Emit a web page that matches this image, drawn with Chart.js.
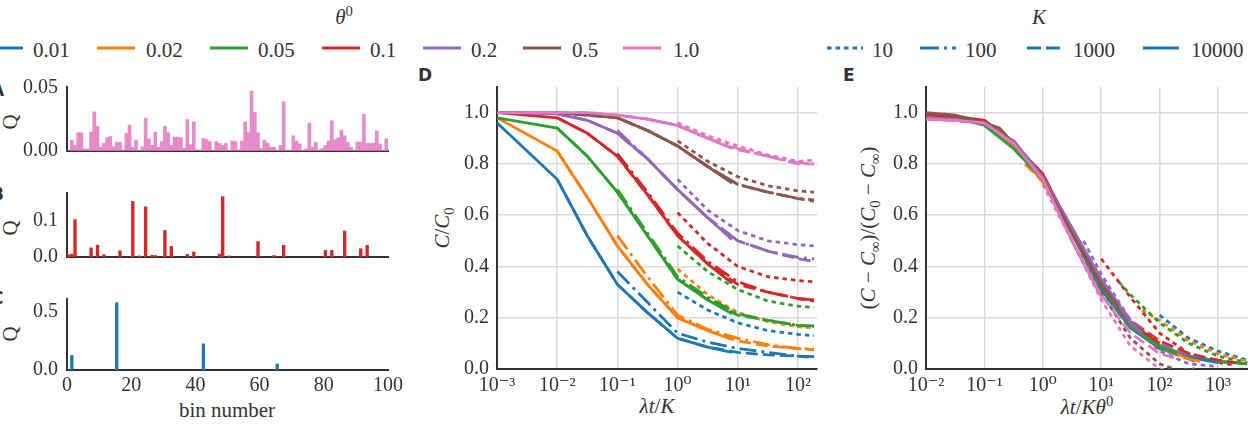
<!DOCTYPE html>
<html>
<head>
<meta charset="utf-8">
<script src="https://cdn.jsdelivr.net/npm/chart.js@4.4.0/dist/chart.umd.min.js"></script>
<style>
body { margin: 0; background: #fff; width: 1248px; height: 430px; overflow: hidden; position: relative; font-family: "Liberation Serif", "DejaVu Serif", "Times New Roman", serif; color: #333; }
canvas { position: absolute; }
.t { position: absolute; font-size: 21px; line-height: 1; white-space: nowrap; }
.c { transform: translate(-50%, -50%); }
.l { transform: translate(0, -50%); }
.r { transform: translate(-50%, -50%) rotate(-90deg); }
.p { position: absolute; font-family: "DejaVu Sans", sans-serif; font-weight: bold; font-size: 17px; }
sub, sup { font-size: 70%; line-height: 0; }
</style>
</head>
<body>
<svg id="leg" width="1248" height="70" style="position:absolute;left:0;top:0"></svg>

<div class="t c" style="left:344px;top:17px"><i>θ</i><sup>0</sup></div>
<div class="t c" style="left:1039px;top:17px"><i>K</i></div>

<div class="p" style="left:-9px;top:80px">A</div>
<div class="p" style="left:-9px;top:184px">B</div>
<div class="p" style="left:-9px;top:288px">C</div>
<div class="p" style="left:418px;top:65px">D</div>
<div class="p" style="left:843px;top:65px">E</div>

<div class="t r" style="left:10px;top:122px">Q</div>
<div class="t r" style="left:10px;top:228px">Q</div>
<div class="t r" style="left:10px;top:334px">Q</div>
<div class="t c" style="left:227px;top:410px">bin number</div>
<div class="t r" style="left:442px;top:228px"><i>C</i>/<i>C</i><sub>0</sub></div>
<div class="t c" style="left:657px;top:406px"><i>λt</i>/<i>K</i></div>
<div class="t r" style="left:868px;top:228px">(<i>C</i> − <i>C</i><sub>∞</sub>)/(<i>C</i><sub>0</sub> − <i>C</i><sub>∞</sub>)</div>
<div class="t c" style="left:1087px;top:407px"><i>λt</i>/<i>Kθ</i><sup>0</sup></div>

<script>
// legend / tick labels
const thetaLabels = ['0.01', '0.02', '0.05', '0.1', '0.2', '0.5', '1.0'];
const kLabels = ['10', '100', '1000', '10000'];
const binTicks = [0, 20, 40, 60, 80, 100];
const ratioTicks = [0, 0.2, 0.4, 0.6, 0.8, 1.0];
const dTicks = [0.001, 0.01, 0.1, 1, 10, 100];
const dTickLabels = ['10⁻³', '10⁻²', '10⁻¹', '10⁰', '10¹', '10²'];
const eTicks = [0.01, 0.1, 1, 10, 100, 1000];
const eTickLabels = ['10⁻²', '10⁻¹', '10⁰', '10¹', '10²', '10³'];

// panel A: theta0 = 1.0, all 100 bins
const qA = [0, 0.0085, 0.0044, 0.0145, 0.0145, 0.0015, 0.0015, 0.015, 0.031, 0.0195,
  0.003, 0.006, 0.0105, 0.0115, 0.0035, 0.007, 0.007, 0.001, 0.014, 0.0205,
  0.003, 0.0085, 0.0005, 0.0035, 0.026, 0.0095, 0.0045, 0.015, 0.003, 0.0075,
  0.0195, 0.0145, 0.0045, 0.011, 0.011, 0.0105, 0.002, 0.025, 0.005, 0.023,
  0, 0.001, 0.010, 0.009, 0.0075, 0.0003, 0.0075, 0.006, 0.0045, 0.006,
  0.0005, 0.008, 0.0075, 0.001, 0.008, 0.023, 0.0145, 0.0475, 0.0305, 0.0145,
  0.002, 0.0087, 0.0063, 0.003, 0.003, 0.0007, 0.0044, 0.039, 0.0007, 0.0007,
  0.012, 0.0078, 0.0056, 0.0007, 0.0015, 0.022, 0.003, 0.0068, 0.0007, 0.002,
  0.0044, 0.008, 0.024, 0.009, 0.0104, 0.0165, 0.012, 0.0068, 0.003, 0.0007,
  0.0073, 0.0068, 0.029, 0.006, 0.006, 0.0063, 0.0158, 0.0056, 0.0007, 0.0097];
// panel B: theta0 = 0.1
const binsB = [0, 1, 2, 7, 9, 11, 16, 20, 22, 24, 26, 27, 30, 32, 37, 39, 47, 48, 50, 59, 64, 67, 80, 82, 86, 91, 93];
const qB = [0.006, 0.008, 0.102, 0.025, 0.032, 0.006, 0.017, 0.152, 0.003, 0.137, 0.005, 0.004, 0.0725, 0.029,
  0.007, 0.014, 0.008, 0.165, 0.003, 0.042, 0.004, 0.032, 0.018, 0.018, 0.071, 0.0225, 0.032];
// panel C: theta0 = 0.01
const binsC = [1, 15, 42, 65];
const qC = [0.124, 0.578, 0.225, 0.052];

// panel D: C/C0 vs lambda t / K, rows = theta0 0.01 .. 1.0
const dX10000 = [0.001, 0.01, 0.0316, 0.1, 0.316, 1, 3.16, 8];
const dY10000 = [
  [0.96, 0.74, 0.52, 0.33, 0.22, 0.12, 0.085, 0.065],
  [0.98, 0.85, 0.67, 0.48, 0.33, 0.20, 0.15, 0.115],
  [0.98, 0.94, 0.83, 0.69, 0.52, 0.35, 0.27, 0.215],
  [1.0, 0.98, 0.92, 0.83, 0.68, 0.52, 0.41, 0.335],
  [1.0, 0.995, 0.97, 0.92, 0.82, 0.70, 0.59, 0.505],
  [1.0, 1.0, 0.99, 0.98, 0.93, 0.87, 0.79, 0.725],
  [1.0, 1.0, 1.0, 0.99, 0.975, 0.95, 0.90, 0.86]];
const dX1000 = [0.01, 0.0316, 0.1, 0.316, 1, 3.16, 10, 31.6, 100, 185];
const dY1000 = [
  [0.74, 0.52, 0.33, 0.22, 0.12, 0.085, 0.065, 0.055, 0.05, 0.045],
  [0.85, 0.67, 0.48, 0.33, 0.20, 0.15, 0.11, 0.09, 0.08, 0.075],
  [0.94, 0.83, 0.69, 0.52, 0.35, 0.27, 0.21, 0.19, 0.17, 0.165],
  [0.98, 0.92, 0.83, 0.68, 0.52, 0.41, 0.33, 0.30, 0.275, 0.265],
  [0.995, 0.97, 0.92, 0.82, 0.70, 0.59, 0.50, 0.46, 0.43, 0.42],
  [1.0, 0.99, 0.98, 0.93, 0.87, 0.79, 0.72, 0.69, 0.665, 0.655],
  [1.0, 1.0, 0.99, 0.975, 0.95, 0.90, 0.855, 0.83, 0.80, 0.80]];
const dX100 = [0.1, 0.316, 1, 3.16, 10, 31.6, 100, 185];
const dY100 = [
  [0.38, 0.26, 0.14, 0.105, 0.08, 0.065, 0.05, 0.048],
  [0.52, 0.36, 0.21, 0.155, 0.12, 0.095, 0.08, 0.078],
  [0.70, 0.53, 0.36, 0.28, 0.215, 0.19, 0.17, 0.168],
  [0.84, 0.69, 0.53, 0.42, 0.34, 0.30, 0.275, 0.27],
  [0.93, 0.82, 0.70, 0.59, 0.50, 0.46, 0.435, 0.43],
  [0.98, 0.93, 0.87, 0.79, 0.72, 0.69, 0.665, 0.66],
  [0.99, 0.975, 0.95, 0.90, 0.86, 0.83, 0.805, 0.80]];
const dX10 = [1, 3.16, 10, 31.6, 100, 185];
const dY10 = [
  [0.30, 0.23, 0.18, 0.15, 0.135, 0.13],
  [0.39, 0.29, 0.22, 0.185, 0.165, 0.16],
  [0.48, 0.38, 0.31, 0.265, 0.245, 0.24],
  [0.61, 0.49, 0.40, 0.36, 0.345, 0.34],
  [0.74, 0.62, 0.54, 0.50, 0.485, 0.48],
  [0.89, 0.81, 0.75, 0.715, 0.695, 0.69],
  [0.96, 0.91, 0.87, 0.835, 0.81, 0.815]];

// panel E: rescaled curves vs lambda t / K theta0
const eX10000 = [
  [0.1, 0.316, 1, 3.16, 10, 31.6, 100, 316, 1000],
  [0.05, 0.1, 0.316, 1, 3.16, 10, 31.6, 100, 316, 500],
  [0.02, 0.0316, 0.1, 0.316, 1, 3.16, 10, 31.6, 100, 200],
  [0.01, 0.0316, 0.1, 0.316, 1, 3.16, 10, 31.6, 100],
  [0.005, 0.01, 0.0316, 0.1, 0.316, 1, 3.16, 10, 31.6, 50],
  [0.002, 0.01, 0.0316, 0.1, 0.18, 0.316, 1, 3.16, 10, 20],
  [0.001, 0.01, 0.0316, 0.1, 0.316, 1, 3.16, 10]];
const eY10000 = [
  [0.95, 0.87, 0.74, 0.53, 0.31, 0.16, 0.08, 0.045, 0.025],
  [0.98, 0.955, 0.87, 0.73, 0.53, 0.33, 0.17, 0.085, 0.04, 0.03],
  [0.985, 0.98, 0.95, 0.86, 0.74, 0.53, 0.32, 0.17, 0.085, 0.06],
  [0.99, 0.985, 0.97, 0.88, 0.76, 0.54, 0.33, 0.18, 0.1],
  [0.98, 0.98, 0.975, 0.955, 0.89, 0.75, 0.55, 0.35, 0.18, 0.14],
  [1.0, 1.0, 0.99, 0.96, 0.94, 0.88, 0.74, 0.53, 0.33, 0.24],
  [0.98, 0.975, 0.97, 0.96, 0.88, 0.74, 0.50, 0.28]];
const eX1000 = [
  [1, 3.16, 10, 31.6, 100, 316, 1000, 3162],
  [0.5, 1, 3.16, 10, 31.6, 100, 316, 1000, 3162],
  [0.2, 0.316, 1, 3.16, 10, 31.6, 100, 316, 1000, 3162],
  [0.1, 0.316, 1, 3.16, 10, 31.6, 100, 316, 1000, 2000],
  [0.05, 0.1, 0.316, 1, 3.16, 10, 31.6, 100, 316, 1000],
  [0.02, 0.1, 0.316, 1, 3.16, 10, 31.6, 100, 400],
  [0.01, 0.1, 0.316, 1, 3.16, 10, 31.6, 100, 200]];
const eY1000 = [
  [0.74, 0.53, 0.32, 0.17, 0.09, 0.05, 0.03, 0.02],
  [0.8, 0.73, 0.53, 0.33, 0.17, 0.09, 0.05, 0.03, 0.02],
  [0.9, 0.86, 0.74, 0.53, 0.33, 0.18, 0.09, 0.05, 0.03, 0.02],
  [0.97, 0.88, 0.76, 0.54, 0.34, 0.19, 0.11, 0.06, 0.035, 0.025],
  [0.975, 0.955, 0.89, 0.75, 0.55, 0.35, 0.19, 0.1, 0.05, 0.025],
  [0.995, 0.96, 0.88, 0.74, 0.53, 0.33, 0.17, 0.08, 0.03],
  [0.975, 0.96, 0.88, 0.74, 0.50, 0.29, 0.14, 0.06, 0.04]];
const eX10 = [
  [100, 316, 1000, 3162],
  [50, 100, 316, 1000, 3162],
  [20, 31.6, 100, 316, 1000, 3162],
  [10, 31.6, 100, 316, 1000, 2000],
  [5, 10, 31.6, 100, 316, 1000],
  [2, 3.16, 10, 31.6, 100, 200, 400],
  [1, 3.16, 10, 31.6, 100, 200]];
const eY10 = [
  [0.21, 0.12, 0.07, 0.035],
  [0.23, 0.19, 0.11, 0.06, 0.03],
  [0.34, 0.29, 0.18, 0.1, 0.05, 0.025],
  [0.43, 0.28, 0.14, 0.06, 0.025, 0.015],
  [0.5, 0.37, 0.19, 0.07, 0.02, 0.01],
  [0.63, 0.53, 0.3, 0.12, 0.02, -0.005, 0.0],
  [0.72, 0.5, 0.27, 0.09, 0.0, -0.01]];

const palette = ['#1f77b4', '#ff7f0e', '#2ca02c', '#d62728', '#9467bd', '#8c564b', '#e377c2'];
const dashes = { '10': [4.5, 4], '100': [17, 5, 3, 5], '1000': [12, 5], '10000': [] };
const ink = '#333';
const tickFont = { family: '"Liberation Serif", "DejaVu Serif", "Times New Roman", serif', size: 20 };

// legend
const svg = document.getElementById('leg');
function legLine(x1, x2, color, dash) {
  const ln = document.createElementNS('http://www.w3.org/2000/svg', 'line');
  ln.setAttribute('x1', x1); ln.setAttribute('x2', x2);
  ln.setAttribute('y1', 48); ln.setAttribute('y2', 48);
  ln.setAttribute('stroke', color); ln.setAttribute('stroke-width', 3);
  if (dash) ln.setAttribute('stroke-dasharray', dash);
  svg.appendChild(ln);
}
function legText(x, txt) {
  const d = document.createElement('div');
  d.className = 't l';
  d.style.left = x + 'px'; d.style.top = '50px';
  d.textContent = txt;
  document.body.appendChild(d);
}
const thetaLeg = [[-15, 33], [97, 146], [210, 258], [322, 370], [423, 471], [523, 572], [623, 673]];
thetaLabels.forEach((lab, i) => {
  legLine(thetaLeg[i][0], thetaLeg[i][0] + 38, palette[i], null);
  legText(thetaLeg[i][1], lab);
});
const kLeg = [[827, 872, '4.5 4'], [920, 965, '19 5 3 5'], [1027, 1073, '14 5'], [1143, 1191, null]];
kLabels.forEach((lab, i) => {
  legLine(kLeg[i][0], kLeg[i][0] + 36, palette[0], kLeg[i][2]);
  legText(kLeg[i][1], lab);
});

function mk(left, top, w, h) {
  const c = document.createElement('canvas');
  c.width = w; c.height = h;
  c.style.left = left + 'px'; c.style.top = top + 'px';
  document.body.appendChild(c);
  return c;
}

function barPanel(top, h, bins, vals, color, thick, yMax, yTicks, digits, showX) {
  new Chart(mk(0, top, 420, h), {
    type: 'bar',
    data: { datasets: [{ data: bins.map((b, i) => ({ x: b + 0.5, y: vals[i] })), backgroundColor: color, borderWidth: 0, barThickness: thick }] },
    options: {
      responsive: false, animation: false, devicePixelRatio: 1,
      layout: { padding: { top: 25, right: 32, bottom: showX ? 5 : 15, left: 0 } },
      plugins: { legend: { display: false }, tooltip: { enabled: false } },
      scales: {
        x: {
          type: 'linear', min: 0, max: 100, offset: false,
          grid: { display: false, drawTicks: false }, border: { color: ink, width: 2 },
          ticks: { display: showX, color: ink, font: tickFont, padding: 4, maxRotation: 0 },
          afterBuildTicks: s => { s.ticks = binTicks.map(v => ({ value: v })); },
          afterFit: s => { s.height = showX ? 30 : 0; }
        },
        y: {
          min: 0, max: yMax,
          grid: { display: false, drawTicks: false }, border: { color: ink, width: 2 },
          ticks: { color: ink, font: tickFont, padding: 9, callback: v => v.toFixed(digits) },
          afterBuildTicks: s => { s.ticks = yTicks.map(v => ({ value: v })); },
          afterFit: s => { s.width = 67; }
        }
      }
    }
  });
}

const allBins = qA.map((v, i) => i);
barPanel(62, 110, allBins, qA, 'rgba(227,119,194,0.85)', 3, 0.0507, [0, 0.05], 2, false);
barPanel(168, 110, binsB, qB, '#d62728', 2.7, 0.175, [0, 0.1], 1, false);
barPanel(274, 131, binsC, qC, '#1f77b4', 2.7, 0.61, [0, 0.5], 1, true);

function series(xs, ys, k, perColourX) {
  const order = { '10': 3, '100': 2, '1000': 1, '10000': 0 }[k];
  return ys.map((row, i) => ({
    data: row.map((y, j) => ({ x: perColourX ? xs[i][j] : xs[j], y: y })),
    borderColor: palette[i], borderWidth: 2.8, borderDash: dashes[k],
    pointRadius: 0, tension: 0, fill: false, order: order * 10 + (6 - i)
  }));
}

function linePanel(left, w, yAxisW, padRight, datasets, xMin, xMax, xTicks, xLabels) {
  new Chart(mk(left, 62, w, 347), {
    type: 'line',
    data: { datasets: datasets },
    options: {
      responsive: false, animation: false, devicePixelRatio: 1,
      layout: { padding: { top: 25, right: padRight, bottom: 4, left: 0 } },
      plugins: { legend: { display: false }, tooltip: { enabled: false } },
      scales: {
        x: {
          type: 'logarithmic', min: xMin, max: xMax,
          grid: { color: '#dadada', lineWidth: 1.5, drawTicks: false }, border: { color: ink, width: 2 },
          ticks: { color: ink, font: tickFont, padding: 5, maxRotation: 0, autoSkip: false, callback: (v, i) => xLabels[i] },
          afterBuildTicks: s => { s.ticks = xTicks.map(v => ({ value: v })); },
          afterFit: s => { s.height = 36; }
        },
        y: {
          min: 0, max: 1.1,
          grid: { color: '#dadada', lineWidth: 1.5, drawTicks: false }, border: { color: ink, width: 2 },
          ticks: { color: ink, font: tickFont, padding: 8, callback: v => v.toFixed(1) },
          afterBuildTicks: s => { s.ticks = ratioTicks.map(v => ({ value: v })); },
          afterFit: s => { s.width = yAxisW; }
        }
      }
    }
  });
}

const dSets = [].concat(
  series(dX10000, dY10000, '10000', false),
  series(dX1000, dY1000, '1000', false),
  series(dX100, dY100, '100', false),
  series(dX10, dY10, '10', false));
linePanel(420, 420, 77, 23, dSets, 0.001, 207, dTicks, dTickLabels);

const eSets = [].concat(
  series(eX10000, eY10000, '10000', true),
  series(eX1000, eY1000, '1000', true),
  series(eX10, eY10, '10', true));
linePanel(866, 382, 60, 0, eSets, 0.01, 3260, eTicks, eTickLabels);
</script>
</body>
</html>
